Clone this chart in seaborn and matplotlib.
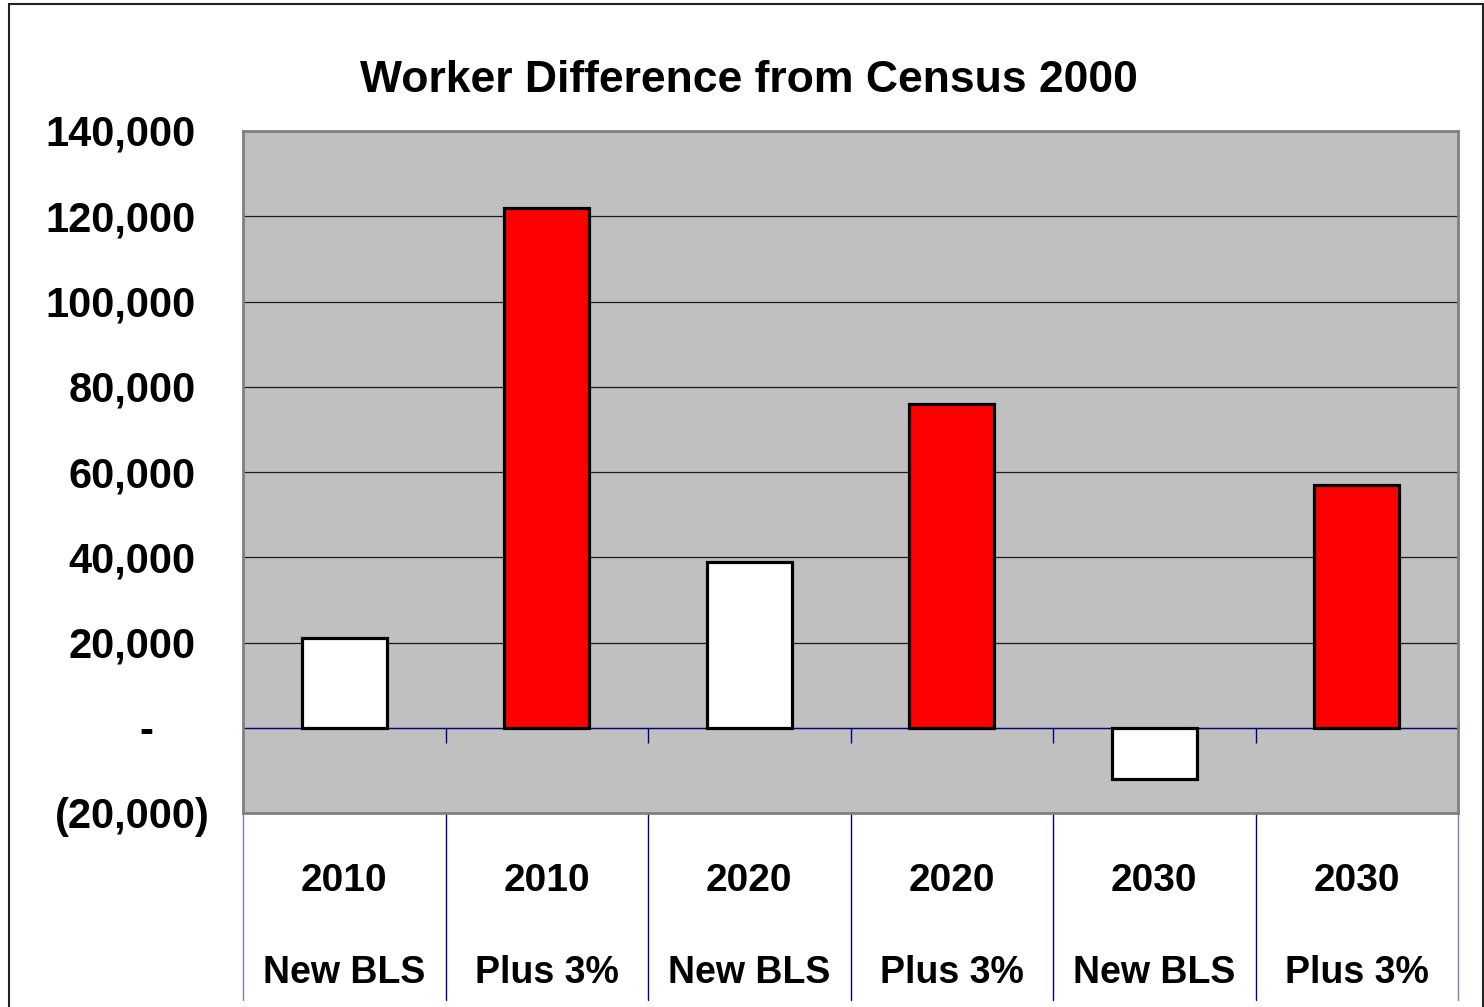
import numpy as np
import pandas as pd
import matplotlib
matplotlib.use("Agg")
import matplotlib.pyplot as plt
import matplotlib.transforms as mtransforms
from matplotlib.patches import Rectangle
import seaborn as sns

# ---- data ----
years = ["2010", "2010", "2020", "2020", "2030", "2030"]
scenarios = ["New BLS", "Plus 3%", "New BLS", "Plus 3%", "New BLS", "Plus 3%"]
values = [21000, 122000, 39000, 76000, -12000, 57000]
bar_colors = ["#FFFFFF", "#FF0000", "#FFFFFF", "#FF0000", "#FFFFFF", "#FF0000"]
ytick_values = [-20000, 0, 20000, 40000, 60000, 80000, 100000, 120000, 140000]
ytick_labels = ["(20,000)", "-", "20,000", "40,000", "60,000", "80,000",
                "100,000", "120,000", "140,000"]
title = "Worker Difference from Census 2000"

sns.set_style("white")
plt.rcParams["font.family"] = ["Liberation Sans Narrow", "Liberation Sans", "DejaVu Sans"]
plt.rcParams["font.weight"] = "bold"

keys = [f"{y} {s}" for y, s in zip(years, scenarios)]
df = pd.DataFrame({"key": keys, "value": values})
palette = dict(zip(keys, bar_colors))

fig = plt.figure(figsize=(14.84, 10.07), dpi=100)
ax = fig.add_axes([243 / 1484, 1 - 813 / 1007, (1458 - 243) / 1484, (813 - 131) / 1007])
ax.set_facecolor("#C0C0C0")

sns.barplot(data=df, x="key", y="value", hue="key", palette=palette, legend=False,
            saturation=1, width=0.42, edgecolor="black", linewidth=2.3, ax=ax, zorder=3)

n = len(keys)
ax.set_xlim(-0.5, n - 0.5)
ax.set_ylim(-20000, 140000)
ax.set_xlabel("")
ax.set_ylabel("")

# gridlines
ax.set_yticks(ytick_values)
ax.set_yticklabels([""] * len(ytick_values))
ax.yaxis.grid(True, color="#1a1a1a", linewidth=0.9, zorder=1)
ax.set_axisbelow(True)
ax.tick_params(axis="y", direction="out", length=10, width=1, color="#555555", pad=0)
ax.tick_params(axis="x", length=0)
ax.set_xticks([])

for sp in ax.spines.values():
    sp.set_color("#808080")
    sp.set_linewidth(2)

# zero line
ax.axhline(0, color="#000080", linewidth=0.9, zorder=2)
bounds = np.arange(n + 1) - 0.5
ax.vlines(bounds[1:-1], -3500, 0, color="#000080", linewidth=1.0, zorder=2)

# y tick labels
ytr = ax.get_yaxis_transform()
off = mtransforms.ScaledTranslation(0, -0.15, fig.dpi_scale_trans)
for v, lab in zip(ytick_values, ytick_labels):
    if lab == "-":
        x, ha = -0.0798, "center"
    elif lab.startswith("("):
        x, ha = -0.0272, "right"
    else:
        x, ha = -0.0387, "right"
    ax.text(x, v, lab, transform=ytr + off, ha=ha, va="baseline",
            fontsize=30, fontweight="bold", color="black", clip_on=False)

# category table below
xtr = ax.get_xaxis_transform()
for i, b in enumerate(bounds):
    col = "#7f7fbf" if i in (0, n) else "#000080"
    ax.plot([b, b], [0, -0.274], transform=xtr, color=col, linewidth=1.0, clip_on=False)
for i, (y, s) in enumerate(zip(years, scenarios)):
    ax.text(i, -0.1139, y, transform=xtr, ha="center", va="baseline",
            fontsize=28, fontweight="bold", color="black")
    ax.text(i, -0.2493, s, transform=xtr, ha="center", va="baseline",
            fontsize=27, fontweight="bold", color="black")

fig.text(0.505, 1 - 91.7 / 1007, title, ha="center", va="baseline",
         fontsize=32, fontweight="bold", color="black")

# outer chart frame
fig.patches.append(Rectangle((9 / 1484, -0.05), (1483 - 9) / 1484, 1.05 - 4 / 1007,
                             transform=fig.transFigure, fill=False,
                             edgecolor="#222222", linewidth=1.5))

fig.savefig("out.png", dpi=100, facecolor="white")
